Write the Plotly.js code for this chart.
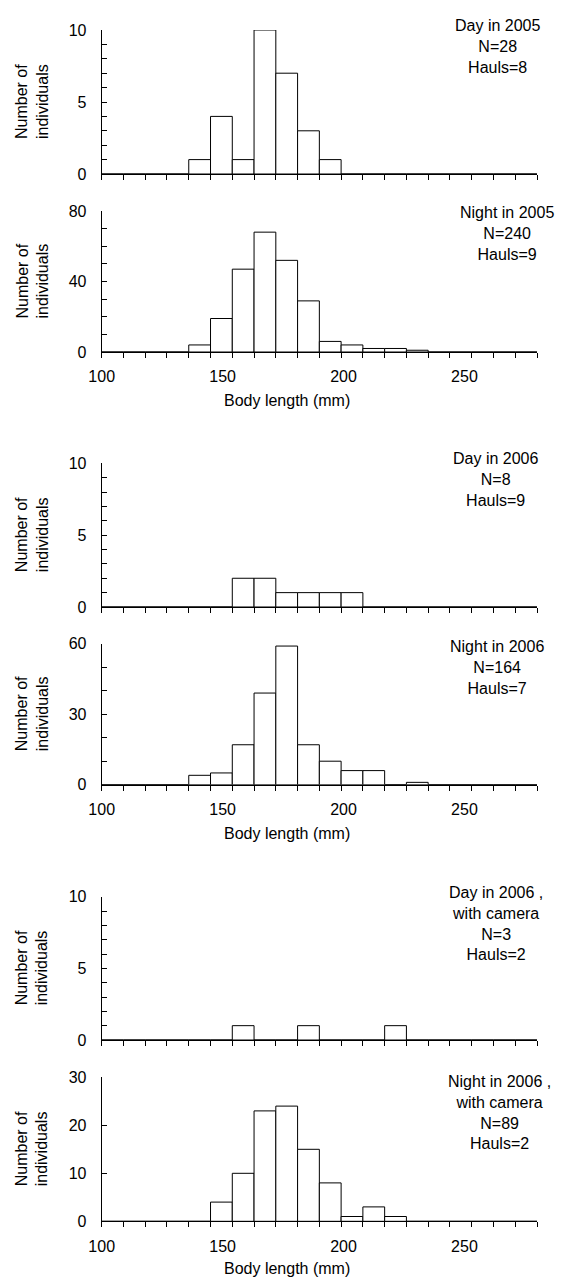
<!DOCTYPE html>
<html>
<head>
<meta charset="utf-8">
<script src="https://cdn.plot.ly/plotly-3.0.1.min.js"></script>
<style>html,body{margin:0;padding:0;background:#fff;}#chart{width:562px;height:1279px;}</style>
</head>
<body>
<div id="chart"></div>
<script>
// Body length bins (mm), bin centres of 9-mm classes starting at 100 mm
const binCenters = [104.5,113.5,122.5,131.5,140.5,149.5,158.5,167.5,176.5,185.5,194.5,203.5,212.5,221.5,230.5,239.5,248.5,257.5,266.5,275.5];
const binWidth = 9;

const day2005   = [0,0,0,0,1,4,1,10,7,3,1,0,0,0,0,0,0,0,0,0];
const night2005 = [0,0,0,0,4,19,47,68,52,29,6,4,2,2,1,0,0,0,0,0];
const day2006   = [0,0,0,0,0,0,2,2,1,1,1,1,0,0,0,0,0,0,0,0];
const night2006 = [0,0,0,0,4,5,17,39,59,17,10,6,6,0,1,0,0,0,0,0];
const dayCam2006   = [0,0,0,0,0,0,1,0,0,1,0,0,0,1,0,0,0,0,0,0];
const nightCam2006 = [0,0,0,0,0,4,10,23,24,15,8,1,3,1,0,0,0,0,0,0];

const panelLabels = [
  "Day in 2005<br>N=28<br>Hauls=8",
  "Night in 2005<br>N=240<br>Hauls=9",
  "Day in 2006<br>N=8<br>Hauls=9",
  "Night in 2006<br>N=164<br>Hauls=7",
  "Day in 2006 ,<br>with camera<br>N=3<br>Hauls=2",
  "Night in 2006 ,<br>with camera<br>N=89<br>Hauls=2"
];
// y tick positions and their labels (blank = unlabelled tick)
const yTickVals = [
  [0,1,2,3,4,5,6,7,8,9,10],
  [0,10,20,30,40,50,60,70,80],
  [0,1,2,3,4,5,6,7,8,9,10],
  [0,10,20,30,40,50,60],
  [0,1,2,3,4,5,6,7,8,9,10],
  [0,10,20,30]
];
const yTickText = [
  ["0","","","","","5","","","","","10"],
  ["0","","","","40","","","","80"],
  ["0","","","","","5","","","","","10"],
  ["0","","","30","","","60"],
  ["0","","","","","5","","","","","10"],
  ["0","10","20","30"]
];
const yRanges = [[0,10],[0,80],[0,10],[0,60],[0,10],[0,30]];
const xTickVals = [100,150,200,250];
const xTitle = "Body length (mm)";
const yTitle = "Number of<br>individuals";

const series = [day2005, night2005, day2006, night2006, dayCam2006, nightCam2006];

// layout geometry (pixels)
const W = 562, H = 1279;
const xLeft = 101.7, xRight = 537;
const panelPx = [[30,174],[211,352],[463.3,607],[643.7,784.7],[896.7,1040],[1077.3,1221.3]];
const labelPos = [[497,46],[507,233],[495,479],[497,667],[496,923],[499,1112]];
const xTitleY = [null,400,null,833,null,1268];

const font = {family: "Liberation Sans, Arial, sans-serif", size: 16, color: "#000"};

const data = [];
const layout = {
  width: W, height: H,
  margin: {l:0, r:0, t:0, b:0},
  paper_bgcolor: "#fff", plot_bgcolor: "rgba(0,0,0,0)",
  showlegend: false,
  bargap: 0,
  font: font,
  annotations: []
};

series.forEach((vals, i) => {
  const n = i + 1;
  const xa = n === 1 ? "xaxis" : "xaxis" + n;
  const ya = n === 1 ? "yaxis" : "yaxis" + n;
  data.push({
    type: "bar",
    x: binCenters,
    y: vals,
    width: binWidth,
    xaxis: "x" + (n === 1 ? "" : n),
    yaxis: "y" + (n === 1 ? "" : n),
    marker: {color: "#fff", line: {color: "#000", width: 1}},
    cliponaxis: false,
    hoverinfo: "skip"
  });
  const [top, bot] = panelPx[i];
  const showX = (i % 2 === 1);
  layout[xa] = {
    domain: [xLeft / W, xRight / W],
    anchor: "y" + (n === 1 ? "" : n),
    range: [100, 280],
    tickmode: "array",
    tickvals: xTickVals,
    ticks: "",
    showticklabels: showX,
    ticklabelstandoff: 10,
    tickfont: font,
    showline: true, linecolor: "#000", linewidth: 1,
    showgrid: false, zeroline: false,
    layer: "above traces",
    minor: {tick0: 100, dtick: binWidth, ticks: "outside", ticklen: 5, tickwidth: 1, tickcolor: "#000", showgrid: false}
  };
  layout[ya] = {
    domain: [1 - bot / H, 1 - top / H],
    anchor: "x" + (n === 1 ? "" : n),
    range: yRanges[i],
    tickmode: "array",
    tickvals: yTickVals[i],
    ticktext: yTickText[i],
    ticks: "inside", ticklen: 5, tickwidth: 1, tickcolor: "#000",
    ticklabelstandoff: 11,
    tickfont: font,
    showline: true, linecolor: "#000", linewidth: 1,
    showgrid: false, zeroline: false,
    layer: "above traces"
  };

  // panel label
  layout.annotations.push({
    xref: "paper", yref: "paper",
    x: labelPos[i][0] / W, y: 1 - labelPos[i][1] / H,
    xanchor: "center", yanchor: "middle",
    text: panelLabels[i], showarrow: false, align: "center", font: font
  });
  // y title
  layout.annotations.push({
    xref: "paper", yref: "paper",
    x: 32 / W, y: 1 - ((top + bot) / 2) / H,
    xanchor: "center", yanchor: "middle",
    text: yTitle, textangle: -90, showarrow: false, align: "center", font: font
  });
  if (showX) {
    layout.annotations.push({
      xref: "paper", yref: "paper",
      x: 287 / W, y: 1 - xTitleY[i] / H,
      xanchor: "center", yanchor: "middle",
      text: xTitle, showarrow: false, font: font
    });
  }
});

Plotly.newPlot("chart", data, layout, {staticPlot: true, displayModeBar: false});
</script>
</body>
</html>
